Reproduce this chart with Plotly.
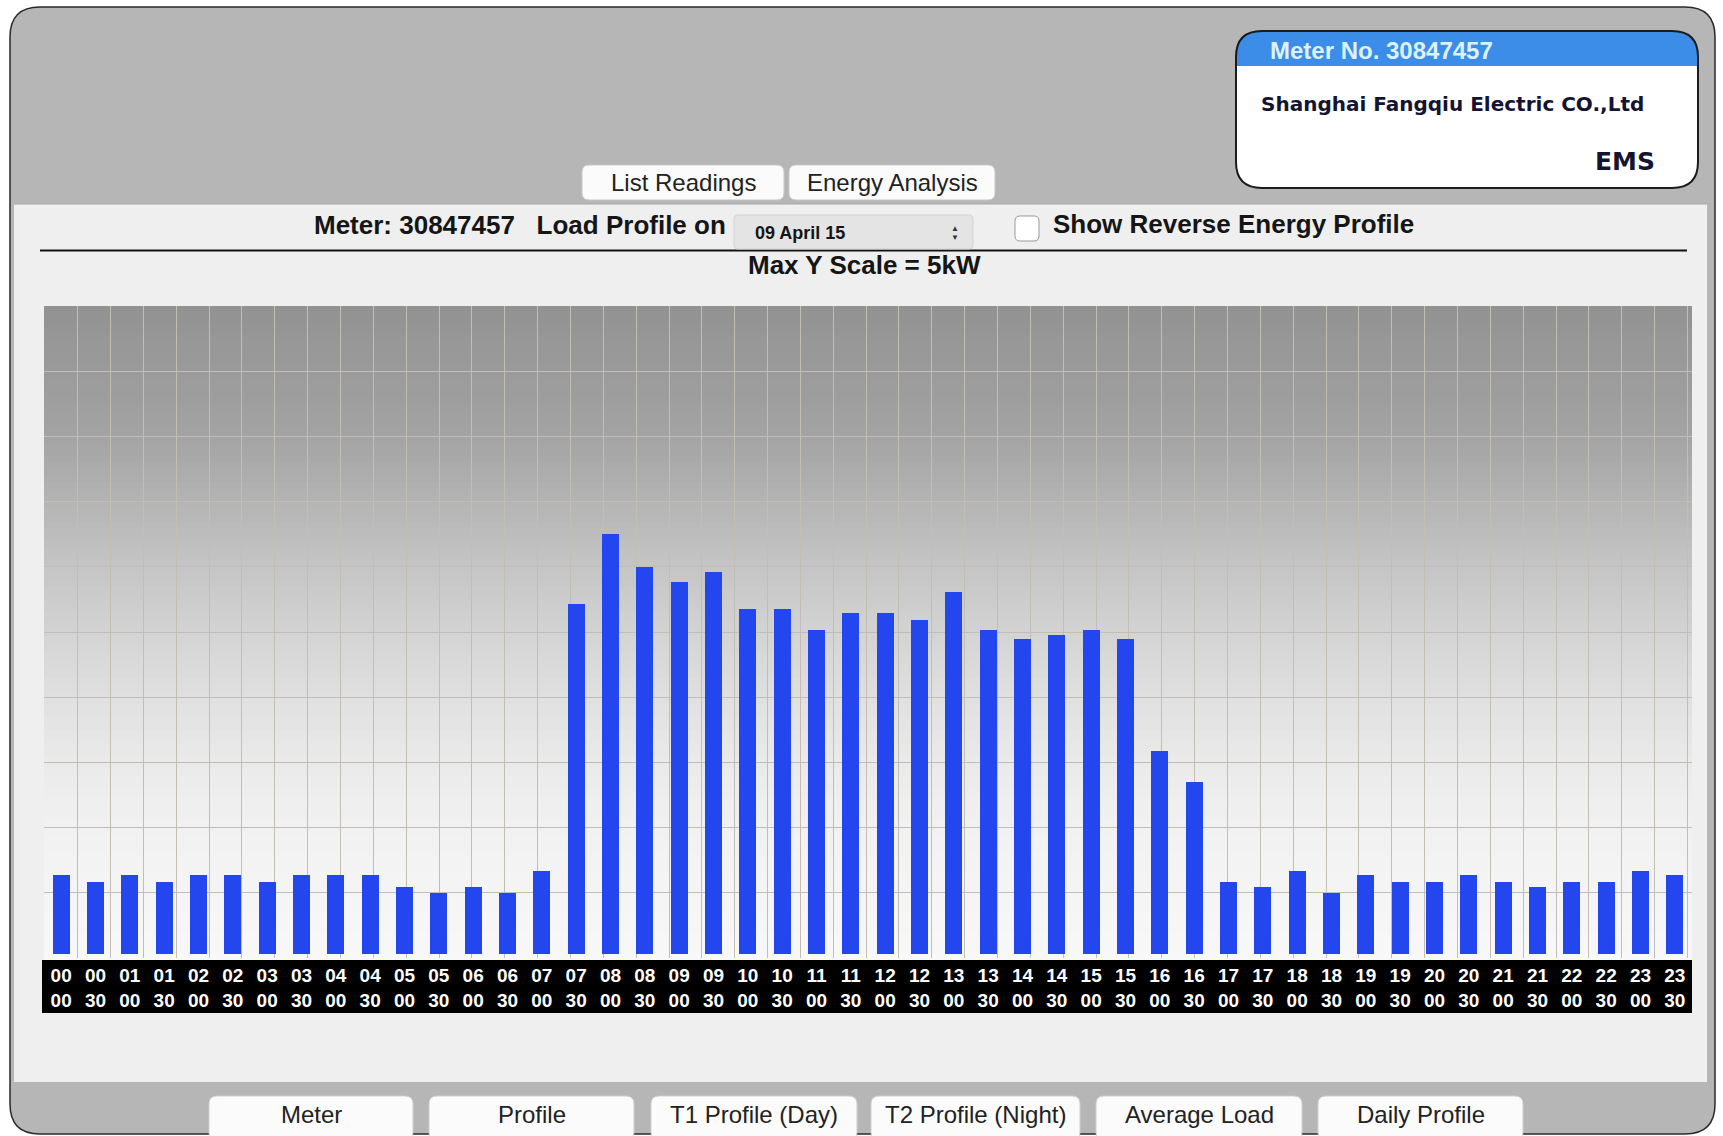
import plotly.graph_objects as go

# ---------------- data ----------------
times = ["00:00", "00:30", "01:00", "01:30", "02:00", "02:30", "03:00", "03:30",
         "04:00", "04:30", "05:00", "05:30", "06:00", "06:30", "07:00", "07:30",
         "08:00", "08:30", "09:00", "09:30", "10:00", "10:30", "11:00", "11:30",
         "12:00", "12:30", "13:00", "13:30", "14:00", "14:30", "15:00", "15:30",
         "16:00", "16:30", "17:00", "17:30", "18:00", "18:30", "19:00", "19:30",
         "20:00", "20:30", "21:00", "21:30", "22:00", "22:30", "23:00", "23:30"]
hour_labels = ["00", "00", "01", "01", "02", "02", "03", "03", "04", "04", "05", "05",
               "06", "06", "07", "07", "08", "08", "09", "09", "10", "10", "11", "11",
               "12", "12", "13", "13", "14", "14", "15", "15", "16", "16", "17", "17",
               "18", "18", "19", "19", "20", "20", "21", "21", "22", "22", "23", "23"]
minute_labels = ["00", "30"] * 24
load_kw = [0.61, 0.56, 0.61, 0.56, 0.61, 0.61, 0.56, 0.61, 0.61, 0.61, 0.52, 0.47,
           0.52, 0.47, 0.64, 2.70, 3.24, 2.99, 2.87, 2.95, 2.66, 2.66, 2.50, 2.63,
           2.63, 2.58, 2.79, 2.50, 2.43, 2.46, 2.50, 2.43, 1.57, 1.33, 0.56, 0.52,
           0.64, 0.47, 0.61, 0.56, 0.56, 0.61, 0.56, 0.52, 0.56, 0.56, 0.64, 0.61]
max_y_kw = 5
top_buttons = ["List Readings", "Energy Analysis"]
bottom_buttons = ["Meter", "Profile", "T1 Profile (Day)", "T2 Profile (Night)",
                  "Average Load", "Daily Profile"]

# ---------------- geometry helpers ----------------
W, H = 1723, 1136
ML, MR, MT, MB = 44, 31, 306, 178
PW = W - ML - MR
PH = H - MT - MB


def px(x):
    return (x - ML) / PW


def py(y):
    return (H - MB - y) / PH


def rrect_path(x0, y0, x1, y1, r, top_only=False):
    rb = 0 if top_only else r
    pts = [
        ("M", [(x0 + r, y0)]),
        ("L", [(x1 - r, y0)]),
        ("Q", [(x1, y0), (x1, y0 + r)]),
        ("L", [(x1, y1 - rb)]),
        ("Q", [(x1, y1), (x1 - rb, y1)]),
        ("L", [(x0 + rb, y1)]),
        ("Q", [(x0, y1), (x0, y1 - rb)]),
        ("L", [(x0, y0 + r)]),
        ("Q", [(x0, y0), (x0 + r, y0)]),
    ]
    s = ""
    for cmd, pp in pts:
        s += cmd + " " + " ".join(f"{px(a):.6f},{py(b):.6f}" for a, b in pp) + " "
    return s + "Z"


shapes = []


def add_rrect(x0, y0, x1, y1, r, fill, line_color=None, lw=0, top_only=False, layer="below"):
    shapes.append(dict(type="path", path=rrect_path(x0, y0, x1, y1, r, top_only),
                       xref="paper", yref="paper", fillcolor=fill,
                       line=dict(color=line_color or "rgba(0,0,0,0)", width=lw),
                       layer=layer))


def add_rect(x0, y0, x1, y1, fill, layer="below"):
    shapes.append(dict(type="rect", xref="paper", yref="paper",
                       x0=px(x0), x1=px(x1), y0=py(y1), y1=py(y0),
                       fillcolor=fill, line=dict(width=0), layer=layer))


annotations = []
SANS = "Liberation Sans, Arial, Helvetica, sans-serif"


def add_text(x, y, text, size, color="#111", bold=False, xanchor="left", family=SANS):
    annotations.append(dict(x=px(x), y=py(y), xref="paper", yref="paper", text=text,
                            showarrow=False, xanchor=xanchor, yanchor="middle",
                            font=dict(family=family, size=size, color=color,
                                      weight="bold" if bold else "normal")))


# ---------------- UI chrome ----------------
# outer panel (dotted grey)
add_rrect(10, 7, 1715, 1134, 30, "#b6b6b6", "#2a2a2a", 1.5)
# inner light area
add_rect(14, 204, 1707, 1082, "#efefef")
shapes.append(dict(type="line", xref="paper", yref="paper", x0=px(14), x1=px(1707),
                   y0=py(204), y1=py(204), line=dict(color="#a8a8a8", width=1), layer="below"))

# plot background gradient
stops = [(0.0, 146), (0.2, 163), (0.3, 180), (0.4, 197), (0.5, 211), (0.6, 224),
         (0.7, 234), (0.8, 241), (1.0, 248)]


def grad(t):
    for (t0, c0), (t1, c1) in zip(stops[:-1], stops[1:]):
        if t0 <= t <= t1:
            return c0 + (c1 - c0) * (t - t0) / (t1 - t0)
    return stops[-1][1]


NB = 100
for i in range(NB):
    c = int(round(grad((i + 0.5) / NB)))
    shapes.append(dict(type="rect", xref="paper", yref="paper", x0=0, x1=1,
                       y0=1 - (i + 1) / NB - 0.004, y1=1 - i / NB,
                       fillcolor=f"rgb({c},{c},{c})", line=dict(width=0), layer="below"))

# black tick-label band
add_rect(42, 960, 1692, 1013, "#000000")

# header rule
shapes.append(dict(type="line", xref="paper", yref="paper", x0=px(40), x1=px(1687),
                   y0=py(250.5), y1=py(250.5), line=dict(color="#111", width=2), layer="below"))

# top buttons
top_btn_x = [(582, 784), (789, 995)]
for (bx0, bx1), label in zip(top_btn_x, top_buttons):
    add_rrect(bx0, 165, bx1, 200, 7, "#fbfbfb", "#c9c9c9", 1)
    add_text((bx0 + bx1) / 2, 182, label, 24, "#222", xanchor="center")

# meter info box
add_rrect(1236, 31, 1698, 188, 26, "#ffffff")
add_rrect(1236, 31, 1698, 66, 26, "#3b8de8", top_only=True)
add_rrect(1236, 31, 1698, 188, 26, "rgba(0,0,0,0)", "#1b1b1b", 2)
add_text(1268, 50, "Meter No. 30847457", 24, "#dcf2ff", bold=True)
add_text(1259, 104, "Shanghai Fangqiu Electric CO.,Ltd", 20, "#141432", bold=True,
         family="DejaVu Sans, Verdana, sans-serif")
add_text(1657, 162, "EMS", 25, "#141432", bold=True, xanchor="right",
         family="DejaVu Sans, Verdana, sans-serif")

# selection row
add_text(312, 225, "Meter: 30847457&nbsp;&nbsp;&nbsp;Load Profile on", 26, "#151515", bold=True)
add_rrect(734, 215, 973, 249, 4, "#e4e4e4", "#d2d2d2", 1)
add_text(753, 233, "09 April 15", 18, "#151515", bold=True)
add_text(955, 228, "▲", 8, "#333", xanchor="center")
add_text(955, 238, "▼", 8, "#333", xanchor="center")
add_rrect(1015, 216, 1039, 241, 5, "#ffffff", "#9a9a9a", 1)
add_text(1051, 224, "Show Reverse Energy Profile", 26, "#151515", bold=True)
add_text(864, 265, f"Max Y Scale = {max_y_kw}kW", 26, "#151515", bold=True, xanchor="center")

# bottom buttons
bot_btn_x = [(209, 413), (429, 634), (651, 857), (871, 1080), (1096, 1302), (1318, 1523)]
for (bx0, bx1), label in zip(bot_btn_x, bottom_buttons):
    add_rrect(bx0, 1096, bx1, 1140, 8, "#fbfbfb", "#cfcfcf", 1)
    add_text((bx0 + bx1) / 2, 1114, label, 24, "#222", xanchor="center")

# ---------------- figure ----------------
fig = go.Figure()
# empty helper traces so that the overlay (grid / minute-label) axes get drawn
fig.add_trace(go.Scatter(x=[], y=[], xaxis="x2", yaxis="y2", hoverinfo="skip",
                         showlegend=False))
fig.add_trace(go.Scatter(x=[], y=[], xaxis="x3", yaxis="y", hoverinfo="skip",
                         showlegend=False))
fig.add_trace(go.Bar(x=times, y=load_kw, marker=dict(color="#2446ee", line=dict(width=0)),
                     width=0.5, hoverinfo="x+y", xaxis="x", yaxis="y"))

grid_color = "#c2beb6"
tick_font = dict(family=SANS, size=19, color="#ffffff", weight="bold")
fig.update_layout(
    width=W, height=H,
    margin=dict(l=ML, r=MR, t=MT, b=MB, pad=0),
    paper_bgcolor="#ffffff",
    plot_bgcolor="rgba(0,0,0,0)",
    showlegend=False,
    bargap=0,
    shapes=shapes,
    annotations=annotations,
    xaxis=dict(type="category", categoryarray=times, categoryorder="array",
               range=[-0.5, len(times) - 0.5],
               tickmode="array", tickvals=times, ticktext=hour_labels,
               tickfont=tick_font,
               ticks="", showgrid=False, zeroline=False, showline=False,
               ticklabelstandoff=4, fixedrange=True),
    yaxis=dict(range=[-0.03, max_y_kw], showgrid=False, zeroline=False,
               showticklabels=False, showline=False, ticks="", fixedrange=True),
    xaxis2=dict(overlaying="x", anchor="y2", range=[-0.026, 50.14], tick0=0, dtick=1,
                showgrid=True, gridcolor=grid_color, gridwidth=1, zeroline=False,
                showticklabels=False, ticks="", showline=False, side="top",
                fixedrange=True),
    yaxis2=dict(overlaying="y", anchor="x2", range=[0, 10], tick0=0, dtick=1,
                showgrid=True, gridcolor=grid_color, gridwidth=1, zeroline=False,
                showticklabels=False, ticks="", showline=False, side="right",
                fixedrange=True),
    xaxis3=dict(overlaying="x", anchor="y", range=[-0.5, len(times) - 0.5],
                tickmode="array", tickvals=list(range(len(times))), ticktext=minute_labels,
                tickfont=tick_font,
                ticks="", showgrid=False, zeroline=False, showline=False,
                ticklabelstandoff=29, side="bottom", fixedrange=True),
)

fig.write_html("out.html",
               post_script="document.body.style.margin='0';document.body.style.overflow='hidden';",
               config={"displayModeBar": False})
